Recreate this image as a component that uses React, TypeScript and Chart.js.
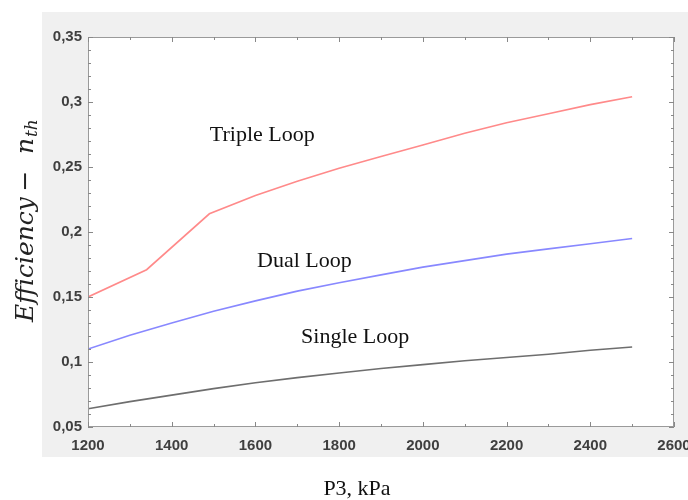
import React, { useEffect, useRef } from "react";
import { Chart, registerables } from "chart.js";

Chart.register(...registerables);

// ---- Data ----
const tripleP3 = [1200, 1340, 1490, 1600, 1700, 1800, 1900, 2000, 2100, 2200, 2300, 2400, 2500];
const tripleEff = [0.15, 0.171, 0.214, 0.228, 0.239, 0.249, 0.258, 0.267, 0.276, 0.284, 0.291, 0.298, 0.304];

const loopP3 = [1200, 1300, 1400, 1500, 1600, 1700, 1800, 1900, 2000, 2100, 2200, 2300, 2400, 2500];
const dualEff = [0.11, 0.1205, 0.13, 0.139, 0.147, 0.1545, 0.161, 0.167, 0.173, 0.178, 0.183, 0.187, 0.191, 0.195];
const singleEff = [0.064, 0.0695, 0.0745, 0.0795, 0.084, 0.088, 0.0915, 0.095, 0.098, 0.101, 0.1035, 0.106, 0.109, 0.1115];

const seriesNames = ["Triple Loop", "Dual Loop", "Single Loop"];

// curve labels anchored in data coordinates (P3, efficiency)
const labelP3 = [1491, 1604, 1709];
const labelEff = [0.27, 0.173, 0.1146];

const xMin = 1200;
const xMax = 2600;
const xStep = 200;
const xMinorStep = 100;
const yMin = 0.05;
const yMax = 0.35;
const yStep = 0.05;
const yMinorStep = 0.01;

const xTitle = "P3, kPa";

const fmt = (v: number) => String(Math.round(v * 100) / 100).replace(".", ",");

const decorPlugin = {
  id: "decor",
  beforeDraw(chart: any) {
    const { ctx, chartArea: a, width, height } = chart;
    ctx.save();
    ctx.fillStyle = "#ffffff";
    ctx.fillRect(0, 0, width, height);
    ctx.fillStyle = "#f0f0f0";
    ctx.fillRect(a.left - 46, a.top - 25, width - (a.left - 46), a.bottom + 30 - (a.top - 25));
    ctx.fillStyle = "#ffffff";
    ctx.fillRect(a.left, a.top, a.right - a.left, a.bottom - a.top);
    ctx.restore();
  },
  afterDraw(chart: any) {
    const { ctx, chartArea: a } = chart;
    const xs = chart.scales.x;
    const ys = chart.scales.y;
    ctx.save();
    // frame
    ctx.strokeStyle = "#9a9a9a";
    ctx.lineWidth = 1;
    ctx.strokeRect(a.left + 0.5, a.top + 0.5, a.right - a.left - 1, a.bottom - a.top - 1);
    // inward ticks
    ctx.strokeStyle = "#888888";
    ctx.beginPath();
    for (let i = 0; xMin + i * xMinorStep <= xMax + 1e-9; i++) {
      const v = xMin + i * xMinorStep;
      const major = Math.abs((v - xMin) % xStep) < 1e-6;
      const len = major ? 5 : 3;
      const px = Math.round(xs.getPixelForValue(v)) + 0.5;
      ctx.moveTo(px, a.bottom);
      ctx.lineTo(px, a.bottom - len);
      ctx.moveTo(px, a.top);
      ctx.lineTo(px, a.top + len);
    }
    const nY = Math.round((yMax - yMin) / yMinorStep);
    for (let i = 0; i <= nY; i++) {
      const v = yMin + i * yMinorStep;
      const major = i % Math.round(yStep / yMinorStep) === 0;
      const len = major ? 5 : 3;
      const py = Math.round(ys.getPixelForValue(v)) + 0.5;
      ctx.moveTo(a.left, py);
      ctx.lineTo(a.left + len, py);
      ctx.moveTo(a.right, py);
      ctx.lineTo(a.right - len, py);
    }
    ctx.stroke();

    // curve labels
    ctx.fillStyle = "#111111";
    ctx.font = '22px "Liberation Serif"';
    ctx.textAlign = "left";
    ctx.textBaseline = "alphabetic";
    seriesNames.forEach((name, i) => {
      ctx.fillText(name, xs.getPixelForValue(labelP3[i]), ys.getPixelForValue(labelEff[i]));
    });

    // x title
    ctx.textAlign = "center";
    ctx.font = '22px "Liberation Serif"';
    ctx.fillText(xTitle, 357, 495);

    // y title (rotated)
    ctx.translate(33, 322);
    ctx.rotate(-Math.PI / 2);
    ctx.textAlign = "left";
    ctx.fillStyle = "#222222";
    ctx.font = 'italic 24px "DejaVu Serif"';
    const w = ctx.measureText("Efficiency").width;
    const size = 24 * 125 / w;
    ctx.font = `italic ${size.toFixed(2)}px "DejaVu Serif"`;
    ctx.fillText("Efficiency", 0, 0);
    ctx.font = `${size.toFixed(2)}px "DejaVu Serif"`;
    ctx.textAlign = "center";
    ctx.fillText("\u2212", 141, 0);
    ctx.textAlign = "left";
    ctx.font = `italic ${size.toFixed(2)}px "DejaVu Serif"`;
    ctx.fillText("n", 168, 0);
    ctx.font = `italic ${(size * 0.68).toFixed(2)}px "DejaVu Serif"`;
    ctx.fillText("th", 185, 4);
    ctx.restore();
  },
};

export default function App() {
  const ref = useRef<HTMLCanvasElement | null>(null);

  useEffect(() => {
    document.body.style.margin = "0";
    const canvas = ref.current;
    if (!canvas) return;
    const tickFont = { family: '"Liberation Sans", Arial, sans-serif', size: 15, weight: "bold" as const };
    const chart = new Chart(canvas, {
      type: "line",
      data: {
        datasets: [
          {
            label: seriesNames[0],
            data: tripleP3.map((x, i) => ({ x, y: tripleEff[i] })),
            borderColor: "#ff8a8a",
            borderWidth: 1.6,
            pointRadius: 0,
            tension: 0,
          },
          {
            label: seriesNames[1],
            data: loopP3.map((x, i) => ({ x, y: dualEff[i] })),
            borderColor: "#8888ff",
            borderWidth: 1.6,
            pointRadius: 0,
            tension: 0,
          },
          {
            label: seriesNames[2],
            data: loopP3.map((x, i) => ({ x, y: singleEff[i] })),
            borderColor: "#6e6e6e",
            borderWidth: 1.6,
            pointRadius: 0,
            tension: 0,
          },
        ],
      },
      options: {
        animation: false,
        responsive: false,
        devicePixelRatio: 1,
        layout: { padding: { top: 37, right: 14, left: 0, bottom: 0 } },
        plugins: { legend: { display: false }, tooltip: { enabled: false }, title: { display: false } },
        scales: {
          x: {
            type: "linear",
            min: xMin,
            max: xMax,
            grid: { display: false, drawTicks: false },
            border: { display: false },
            ticks: {
              stepSize: xStep,
              padding: 10,
              color: "#3f3f3f",
              font: tickFont,
              maxRotation: 0,
              autoSkip: false,
              callback: (v: any) => String(v),
            },
            afterFit: (s: any) => {
              s.height = 73;
              s.paddingLeft = 0;
              s.paddingRight = 0;
            },
          },
          y: {
            type: "linear",
            min: yMin,
            max: yMax,
            grid: { display: false, drawTicks: false },
            border: { display: false },
            ticks: {
              stepSize: yStep,
              padding: 6,
              color: "#3f3f3f",
              font: tickFont,
              autoSkip: false,
              callback: (v: any) => fmt(Number(v)),
            },
            afterFit: (s: any) => {
              s.width = 88;
              s.paddingTop = 0;
              s.paddingBottom = 0;
            },
          },
        },
      },
      plugins: [decorPlugin],
    });
    return () => chart.destroy();
  }, []);

  return (
    <div style={{ position: "absolute", left: 0, top: 0, width: 688, height: 500 }}>
      <canvas ref={ref} width={688} height={500} />
    </div>
  );
}
